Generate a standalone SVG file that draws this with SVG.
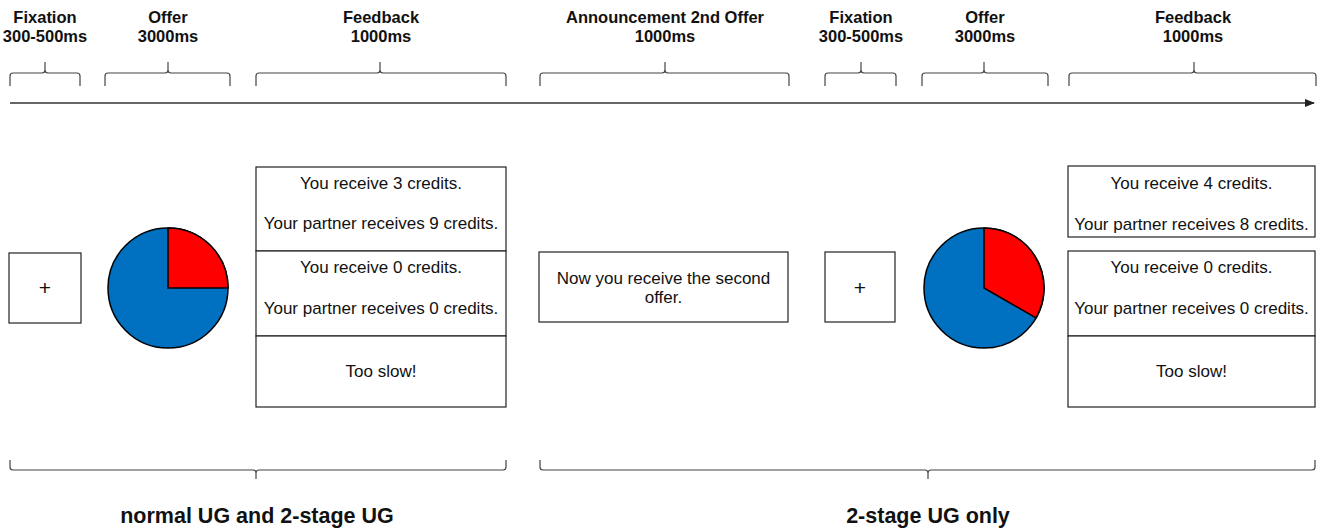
<svg xmlns="http://www.w3.org/2000/svg" width="1318" height="528" viewBox="0 0 1318 528">
<defs>
<style>
.lbl{font-family:"Liberation Sans",Arial,sans-serif;font-weight:bold;font-size:16.5px;fill:#111;text-anchor:middle}
.big{font-family:"Liberation Sans",Arial,sans-serif;font-weight:bold;font-size:21.5px;fill:#111;text-anchor:middle}
.txt{font-family:"Liberation Sans",Arial,sans-serif;font-size:17px;fill:#111;text-anchor:middle}
.plus{font-family:"Liberation Sans",Arial,sans-serif;font-size:21px;fill:#111;text-anchor:middle}
.box{fill:#fff;stroke:#222;stroke-width:1.2}
.brace{fill:none;stroke:#444;stroke-width:1.2}
.blue{fill:#0070C0;stroke:#000;stroke-width:1.5}
.red{fill:#FF0000;stroke:#000;stroke-width:1.5}
</style>
<marker id="ah" markerWidth="10" markerHeight="8" refX="9" refY="4" orient="auto" markerUnits="userSpaceOnUse">
<path d="M0,0 L10,4 L0,8 Z" fill="#222"/>
</marker>
</defs>
<rect width="1318" height="528" fill="#fff"/>

<g id="timeline">
<line x1="10" y1="103" x2="1314" y2="103" stroke="#333" stroke-width="1.6" marker-end="url(#ah)"/>
</g>

<g id="labels">
<text class="lbl" x="45" y="23">Fixation</text><text class="lbl" x="45" y="42">300-500ms</text>
<text class="lbl" x="168" y="23">Offer</text><text class="lbl" x="168" y="42">3000ms</text>
<text class="lbl" x="381" y="23">Feedback</text><text class="lbl" x="381" y="42">1000ms</text>
<text class="lbl" x="665" y="23">Announcement 2nd Offer</text><text class="lbl" x="665" y="42">1000ms</text>
<text class="lbl" x="861" y="23">Fixation</text><text class="lbl" x="861" y="42">300-500ms</text>
<text class="lbl" x="985" y="23">Offer</text><text class="lbl" x="985" y="42">3000ms</text>
<text class="lbl" x="1193" y="23">Feedback</text><text class="lbl" x="1193" y="42">1000ms</text>
</g>

<g id="connectors">
<path class="brace" d="M10,86 L10,76 Q10,73 13,73 L42,73 Q45,73 45,70 L45,62 M45,70 Q45,73 48,73 L77,73 Q80,73 80,76 L80,86"/>
<path class="brace" d="M105,86 L105,76 Q105,73 108,73 L165,73 Q168,73 168,70 L168,62 M168,70 Q168,73 171,73 L227,73 Q230,73 230,76 L230,86"/>
<path class="brace" d="M256,86 L256,76 Q256,73 259,73 L377,73 Q380,73 380,70 L380,62 M380,70 Q380,73 383,73 L503,73 Q506,73 506,76 L506,86"/>
<path class="brace" d="M540,86 L540,76 Q540,73 543,73 L662,73 Q665,73 665,70 L665,62 M665,70 Q665,73 668,73 L786,73 Q789,73 789,76 L789,86"/>
<path class="brace" d="M825,86 L825,76 Q825,73 828,73 L858,73 Q861,73 861,70 L861,62 M861,70 Q861,73 864,73 L893,73 Q896,73 896,76 L896,86"/>
<path class="brace" d="M922,86 L922,76 Q922,73 925,73 L981,73 Q984,73 984,70 L984,62 M984,70 Q984,73 987,73 L1045,73 Q1048,73 1048,76 L1048,86"/>
<path class="brace" d="M1069,86 L1069,76 Q1069,73 1072,73 L1191,73 Q1194,73 1194,70 L1194,62 M1194,70 Q1194,73 1197,73 L1313,73 Q1316,73 1316,76 L1316,86"/>
<path class="brace" d="M10,460 L10,467 Q10,470 13,470 L253,470 Q256,470 256,473 L256,479 M256,473 Q256,470 259,470 L503,470 Q506,470 506,467 L506,460"/>
<path class="brace" d="M540,460 L540,467 Q540,470 543,470 L925,470 Q928,470 928,473 L928,479 M928,473 Q928,470 931,470 L1312,470 Q1315,470 1315,467 L1315,460"/>
</g>

<g id="fix1">
<rect class="box" x="9" y="253" width="72" height="70"/>
<text class="plus" x="45" y="295">+</text>
</g>

<g id="pie1">
<circle class="blue" cx="168" cy="288" r="60"/>
<path class="red" d="M168,288 L168,228 A60,60 0 0 1 228,288 Z"/>
</g>

<g id="feedback1">
<rect class="box" x="256" y="167" width="250" height="84"/>
<text class="txt" x="381" y="189">You receive 3 credits.</text>
<text class="txt" x="381" y="229">Your partner receives 9 credits.</text>
<rect class="box" x="256" y="251" width="250" height="85"/>
<text class="txt" x="381" y="273">You receive 0 credits.</text>
<text class="txt" x="381" y="314">Your partner receives 0 credits.</text>
<rect class="box" x="256" y="336" width="250" height="71"/>
<text class="txt" x="381" y="377">Too slow!</text>
</g>

<g id="announce">
<rect class="box" x="539" y="252" width="249" height="70"/>
<text class="txt" x="663.5" y="284">Now you receive the second</text>
<text class="txt" x="663.5" y="303">offer.</text>
</g>

<g id="fix2">
<rect class="box" x="825" y="252" width="70" height="70"/>
<text class="plus" x="860" y="295">+</text>
</g>

<g id="pie2">
<circle class="blue" cx="984" cy="288" r="60"/>
<path class="red" d="M984,288 L984,228 A60,60 0 0 1 1035.96,318 Z"/>
</g>

<g id="feedback2">
<rect class="box" x="1068" y="166" width="247" height="71"/>
<text class="txt" x="1191.5" y="189">You receive 4 credits.</text>
<text class="txt" x="1191.5" y="230">Your partner receives 8 credits.</text>
<rect class="box" x="1068" y="251" width="247" height="85"/>
<text class="txt" x="1191.5" y="273">You receive 0 credits.</text>
<text class="txt" x="1191.5" y="314">Your partner receives 0 credits.</text>
<rect class="box" x="1068" y="336" width="247" height="71"/>
<text class="txt" x="1191.5" y="377">Too slow!</text>
</g>

<g id="groups">
<text class="big" x="257" y="523">normal UG and 2-stage UG</text>
<text class="big" x="928" y="523">2-stage UG only</text>
</g>
</svg>
